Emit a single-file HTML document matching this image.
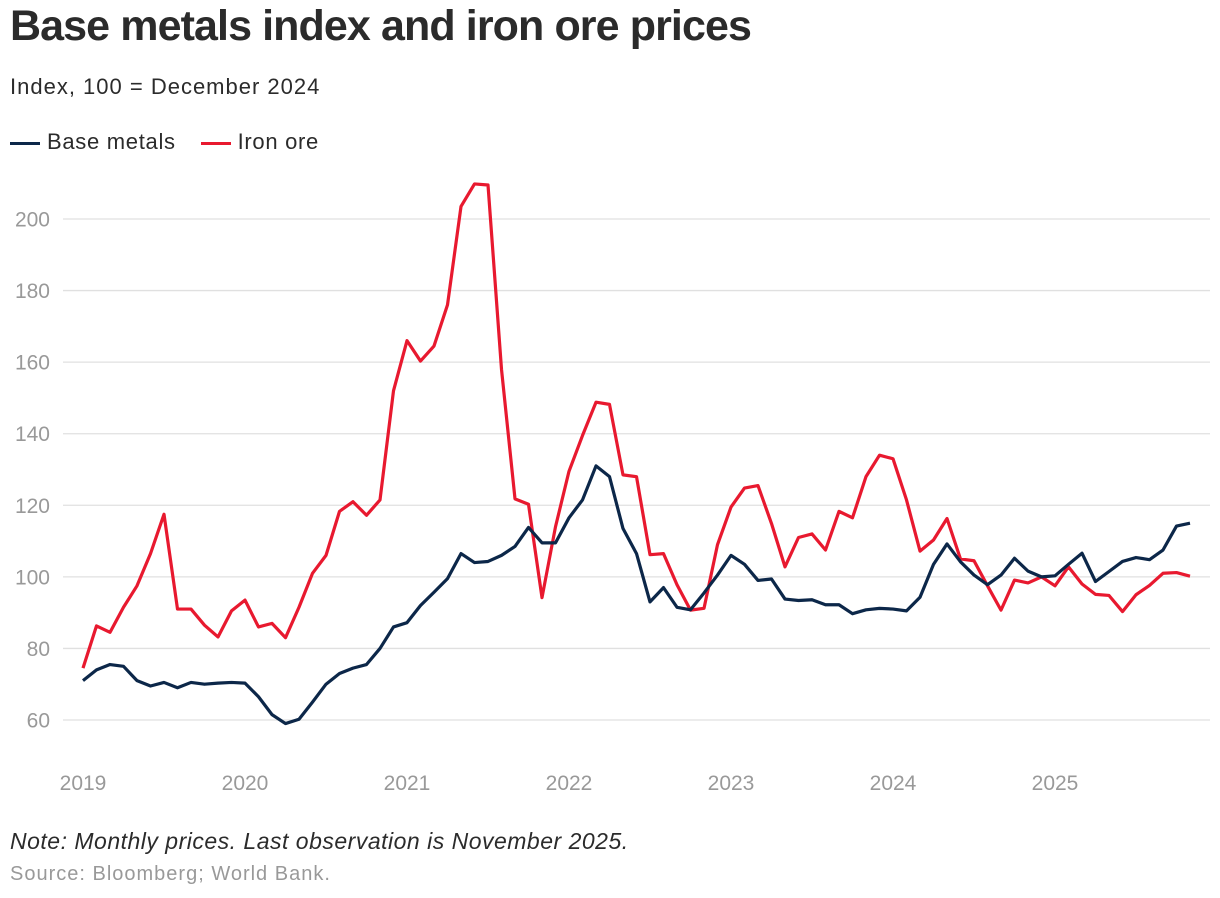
<!DOCTYPE html>
<html><head><meta charset="utf-8"><style>
body{margin:0;background:#fff;font-family:"Liberation Sans",sans-serif;}
#wrap{position:relative;width:1220px;height:898px;overflow:hidden;}
.t{position:absolute;left:10px;white-space:nowrap;}
</style></head><body>
<div id="wrap">
<div class="t" style="top:2px;font-size:43px;font-weight:bold;color:#2b2b2b;letter-spacing:-0.9px">Base metals index and iron ore prices</div>
<div class="t" style="top:74px;font-size:22px;color:#2b2b2b;letter-spacing:1px">Index, 100 = December 2024</div>
<div class="t" style="top:129px;font-size:22px;color:#2b2b2b;letter-spacing:0.7px">
<span><span style="display:inline-block;width:30px;height:3px;background:#0c2749;vertical-align:middle;margin-right:7px"></span>Base metals</span>
<span style="margin-left:18px"><span style="display:inline-block;width:30px;height:3px;background:#e8192f;vertical-align:middle;margin-right:7px"></span>Iron ore</span>
</div>
<svg id="chart" width="1220" height="898" style="position:absolute;left:0;top:0"></svg>
<div class="t" style="top:828px;font-size:23px;font-style:italic;color:#2b2b2b;letter-spacing:0.5px">Note: Monthly prices. Last observation is November 2025.</div>
<div class="t" style="top:863px;font-size:20px;color:#999;letter-spacing:1px">Source: Bloomberg; World Bank.</div>
</div>
<script>
const yTicks=[60,80,100,120,140,160,180,200];
const xYears=["2019","2020","2021","2022","2023","2024","2025"];
const baseMetals=[71,74,75.5,75,71,69.5,70.5,69,70.5,70,70.3,70.5,
70.3,66.5,61.5,59,60.2,65,70,73,74.5,75.5,80,86,
87.2,92,95.7,99.5,106.5,104,104.3,106,108.5,113.8,109.5,109.5,
116.5,121.5,131,128,113.5,106.5,93,97,91.5,90.8,95.5,100.5,
106,103.5,99,99.4,93.8,93.4,93.6,92.2,92.2,89.7,90.8,91.2,
91,90.5,94.3,103.5,109.2,104.2,100.5,97.8,100.5,105.2,101.6,100,
100.3,103.5,106.6,98.7,101.5,104.3,105.4,104.8,107.5,114.2,115];
const ironOre=[74.5,86.3,84.5,91.5,97.5,106.5,117.5,91,91,86.5,83.2,90.5,
93.5,86,87,83,91.5,101,106,118.3,121,117.2,121.5,152,
166,160.3,164.5,176,203.5,209.8,209.5,158,121.8,120.3,94.2,114,
129.5,139.5,148.8,148.2,128.5,128,106.2,106.5,97.8,90.7,91.2,109,
119.5,124.8,125.5,114.9,102.8,111,112,107.5,118.3,116.5,128,134,
133,121.5,107.2,110.3,116.3,105,104.5,97.5,90.7,99.1,98.3,100,
97.5,102.8,98,95.1,94.8,90.3,95,97.6,101,101.2,100.2];
const NS="http://www.w3.org/2000/svg";
const svg=document.getElementById('chart');
const yS=v=>720-(v-60)*(501/140);
const xS=i=>83+i*13.5;
function mk(tag,attrs){const e=document.createElementNS(NS,tag);for(const k in attrs)e.setAttribute(k,attrs[k]);svg.appendChild(e);return e;}
yTicks.forEach(v=>{
 const l=mk('line',{x1:63,x2:1210,y1:yS(v),y2:yS(v),stroke:'#e0e0e0','stroke-width':1.3});
 
 
 const t=mk('text',{x:50,y:yS(v)+7.5,'font-size':21,fill:'#999','text-anchor':'end','font-family':'Liberation Sans'});t.textContent=v;
 
 
});
xYears.forEach((y,k)=>{
 const t=mk('text',{x:xS(k*12),y:790,'font-size':21,fill:'#999','text-anchor':'middle','font-family':'Liberation Sans'});t.textContent=y;
 
 
});
function line(data,color,name){
 const p=mk('polyline',{points:data.map((v,i)=>xS(i)+','+yS(v)).join(' '),fill:'none',stroke:color,'stroke-width':3.2,'stroke-linejoin':'round'});
 
 
}
line(ironOre,'#e8192f','iron-ore-line');
line(baseMetals,'#0c2749','base-metals-line');
</script>
</body></html>
